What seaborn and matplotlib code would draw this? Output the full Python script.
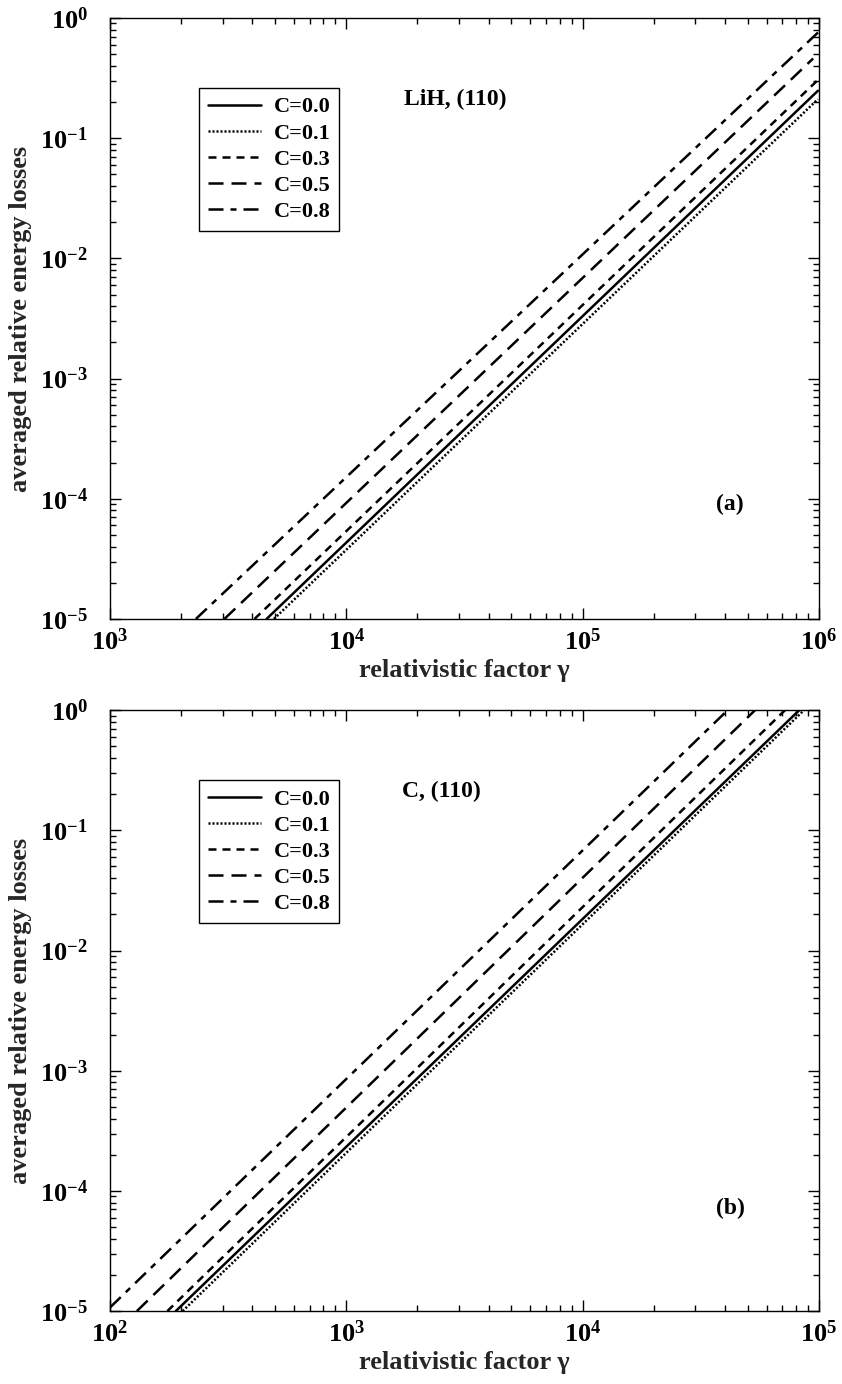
import matplotlib
matplotlib.use('Agg')
import matplotlib.pyplot as plt
from matplotlib.lines import Line2D
from matplotlib.ticker import LogLocator, LogFormatterMathtext, NullFormatter
import pandas as pd
import seaborn as sns

# curve labels
c_labels = ['C=0.0', 'C=0.1', 'C=0.3', 'C=0.5', 'C=0.8']

# (a) LiH, (110): end points of each straight line (log-log)
lih_gamma_start = [4600, 4940, 4090, 3050, 2310]
lih_loss_start = [1e-5, 1e-5, 1e-5, 1e-5, 1e-5]
lih_gamma_end = [9.9e5, 9.9e5, 9.9e5, 9.45e5, 1.0e6]
lih_loss_end = [0.248, 0.211, 0.305, 0.46, 0.77]

# (b) C, (110)
c_gamma_start = [190, 203, 175, 130, 100]
c_loss_start = [1e-5, 1e-5, 1e-5, 1e-5, 1.07e-5]
c_gamma_end = [82600, 86500, 71900, 53700, 41100]
c_loss_end = [1.0, 1.0, 1.0, 1.0, 1.0]

dash_map = {
    'C=0.0': '',
    'C=0.1': (0.8, 0.8),
    'C=0.3': (3.2, 2.4),
    'C=0.5': (6, 3.2),
    'C=0.8': (6, 2.8, 2.4, 2.8),
}

sns.set_theme(style='ticks')
plt.rcParams.update({
    'font.family': ['Liberation Serif', 'DejaVu Serif'],
    'font.weight': 'bold',
    'mathtext.fontset': 'custom',
    'mathtext.rm': 'Liberation Serif:bold',
    'mathtext.it': 'Liberation Serif:bold',
    'mathtext.bf': 'Liberation Serif:bold',
    'mathtext.default': 'rm',
    'axes.linewidth': 1.0,
    'axes.edgecolor': 'black',
    'text.color': 'black',
    'xtick.color': 'black',
    'ytick.color': 'black',
})


def long_form(g0, l0, g1, l1):
    rows = []
    for lab, a, b, c, d in zip(c_labels, g0, l0, g1, l1):
        rows.append({'gamma': a, 'loss': b, 'C': lab})
        rows.append({'gamma': c, 'loss': d, 'C': lab})
    return pd.DataFrame(rows)


def panel(ax, df, xlim, title, title_xy, tag, tag_xy):
    sns.lineplot(data=df, x='gamma', y='loss', style='C', style_order=c_labels,
                 dashes=dash_map, color='black', lw=1.8, legend=False,
                 estimator=None, sort=False, ax=ax)
    ax.set(xscale='log', yscale='log', xlim=xlim, ylim=(1e-5, 1))

    for axis in (ax.xaxis, ax.yaxis):
        axis.set_major_locator(LogLocator(base=10, numticks=20))
        axis.set_minor_locator(LogLocator(base=10, subs=range(2, 10), numticks=20))
        axis.set_major_formatter(LogFormatterMathtext())
        axis.set_minor_formatter(NullFormatter())
    ax.tick_params(which='both', direction='in', top=True, right=True, width=1)
    ax.tick_params(which='major', length=8, labelsize=19)
    ax.tick_params(axis='x', which='major', pad=7)
    ax.tick_params(axis='y', which='major', pad=16)
    ax.tick_params(which='minor', length=4.5)

    ax.set_xlabel('relativistic factor γ', fontsize=19, fontweight='bold')
    ax.set_ylabel('averaged relative energy losses', fontsize=19, fontweight='bold')
    ax.xaxis.set_label_coords(0.5, -0.066)
    ax.yaxis.set_label_coords(-0.11, 0.5)

    handles = [Line2D([], [], color='black', lw=1.8,
                      linestyle=(0, dash_map[k]) if dash_map[k] else '-')
               for k in c_labels]
    leg = ax.legend(handles, c_labels, loc='upper left', bbox_to_anchor=(0.1255, 0.8835),
                    frameon=True, fancybox=False, edgecolor='black', framealpha=1,
                    fontsize=16, handlelength=2.4, handletextpad=0.55,
                    borderaxespad=0, labelspacing=0.25, borderpad=0.4)
    leg.get_frame().set_linewidth(1.0)

    ax.text(*title_xy, title, transform=ax.transAxes, ha='center', va='center',
            fontsize=17, fontweight='bold')
    ax.text(*tag_xy, tag, transform=ax.transAxes, ha='center', va='center',
            fontsize=17, fontweight='bold')


fig = plt.figure(figsize=(8.42, 13.84), dpi=100)
ax1 = fig.add_axes([0.1306, 0.5528, 0.8420, 0.4342])
ax2 = fig.add_axes([0.1306, 0.0527, 0.8420, 0.4342])

panel(ax1, long_form(lih_gamma_start, lih_loss_start, lih_gamma_end, lih_loss_end),
      (1e3, 1e6), 'LiH, (110)', (0.487, 0.864), '(a)', (0.875, 0.19))
panel(ax2, long_form(c_gamma_start, c_loss_start, c_gamma_end, c_loss_end),
      (1e2, 1e5), 'C, (110)', (0.467, 0.864), '(b)', (0.875, 0.17))

fig.savefig('out.png', dpi=100)
